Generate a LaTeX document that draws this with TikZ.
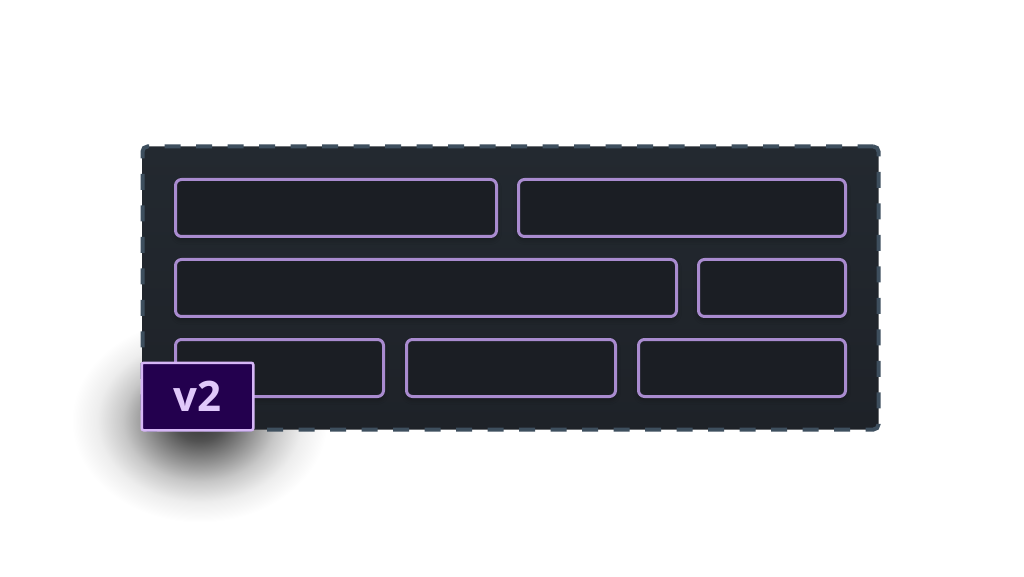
\documentclass[tikz,border=0pt]{standalone}
\usepackage{fontspec}
\setsansfont{Open Sans}
\usetikzlibrary{positioning,fit,backgrounds,shadows.blur}
\pgfdeclarelayer{shade}
\pgfsetlayers{shade,background,main}
\definecolor{frameTop}{HTML}{232930}
\definecolor{frameBot}{HTML}{1E2228}
\definecolor{frameDash}{HTML}{3E4F5E}
\definecolor{cellFill}{HTML}{1B1E24}
\definecolor{cellLine}{HTML}{A98BCF}
\definecolor{tagFill}{HTML}{23004E}
\definecolor{tagLine}{HTML}{D6B6F6}
\definecolor{tagText}{HTML}{E0C8FA}
\pgfdeclareradialshading{tagglow}{\pgfpoint{0bp}{0bp}}{%
  color(0bp)=(black!80); color(5bp)=(black!68); color(10bp)=(black!45);
  color(15bp)=(black!22); color(20bp)=(black!7); color(25bp)=(white); color(50bp)=(white)}

\begin{document}
\begin{tikzpicture}[
  x=1pt, y=1pt,
  node distance=20pt and 19pt,
  cell/.style={draw=cellLine, fill=cellFill, line width=3pt, rounded corners=6pt,
    minimum height=57pt, inner sep=0pt,
    blur shadow={shadow xshift=0pt, shadow yshift=-3pt, shadow blur radius=5pt, shadow opacity=30}},
  frame/.style={draw=frameDash, line width=4pt, dash pattern=on 16pt off 15.5pt,
    rounded corners=5pt, top color=frameTop, bottom color=frameBot, inner sep=31.5pt},
  tag/.style={draw=tagLine, fill=tagFill, line width=2.5pt, rounded corners=2pt,
    minimum width=111.5pt, minimum height=67.5pt, inner sep=0pt,
    text=tagText, font=\sffamily\bfseries\fontsize{42}{42}\selectfont},
]
\useasboundingbox (0,0) rectangle (1024,576);
% Row one.
\node[cell, minimum width=321pt, anchor=north west] (c1) at (174,398) {};
\node[cell, minimum width=327pt, right=of c1] (c2) {};
% Row two.
\node[cell, minimum width=501pt, below=of c1.south west, anchor=north west] (c3) {};
\node[cell, minimum width=147pt, right=of c3] (c4) {};
% Row three.
\node[cell, minimum width=208pt, below=of c3.south west, anchor=north west] (c5) {};
\node[cell, minimum width=209pt, right=20pt of c5] (c6) {};
\node[cell, minimum width=207pt, right=20pt of c6] (c7) {};
\begin{scope}[on background layer]
  \node[frame, fit=(c1)(c2)(c4)(c7)] (grid) {};
\end{scope}
\node[tag, anchor=south west] (ver) at (grid.south west) {v2};
% Soft shadow under the tag.
\begin{pgfonlayer}{shade}
  \fill[white] (0,0) rectangle (1024,576);
  \shade[shading=tagglow] ([shift={(2pt,-24pt)}]ver.center) ellipse [x radius=128pt, y radius=102pt];
\end{pgfonlayer}
\end{tikzpicture}
\end{document}
